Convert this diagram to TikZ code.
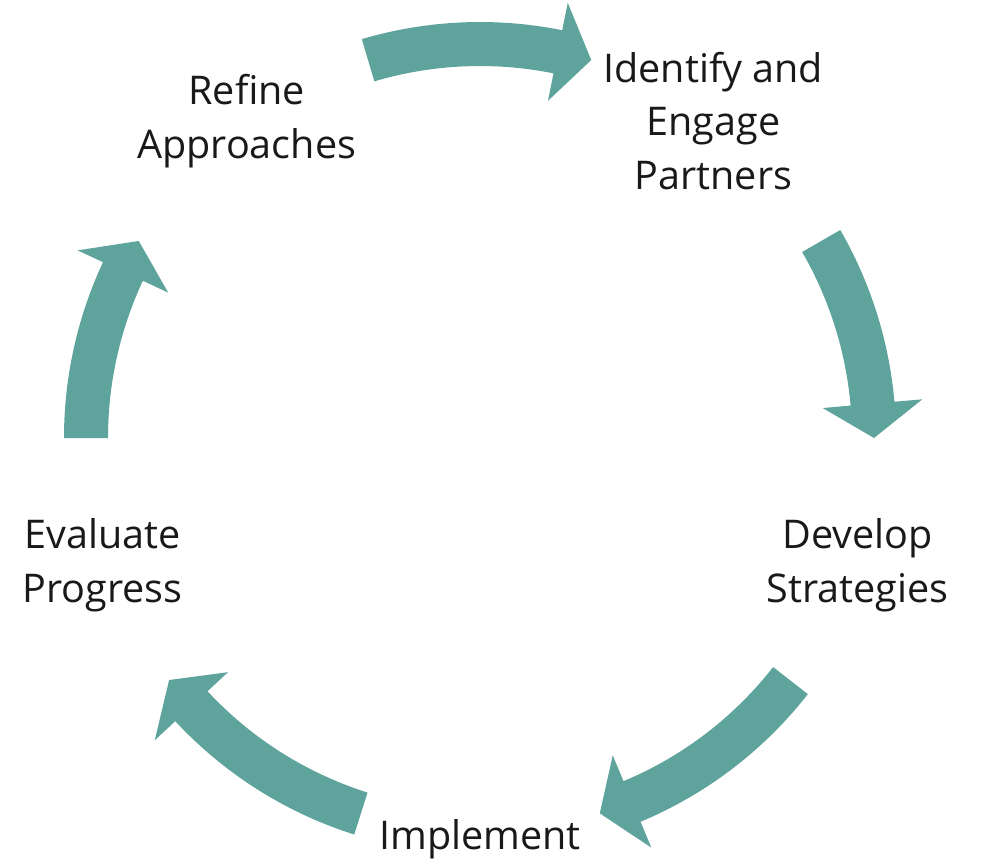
\documentclass[tikz,border=0pt]{standalone}
\usepackage{fontspec}
\setmainfont{Open Sans}
\usetikzlibrary{positioning}
\definecolor{cycleteal}{RGB}{94,164,156}
\tikzset{
	steplabel/.style={align=center,text=black!90,inner sep=0pt,yshift=-2.4pt,font=\fontsize{22.5}{30.7}\selectfont},
	blockarrow/.style={fill=cycleteal,draw=none}
}
\newcommand{\cyclearrow}[3]{%
	\fill[blockarrow] (#1:372) -- (#1:416) arc[start angle=#1,end angle=#2,radius=416]
		-- (#2:444) -- (#3:394) -- (#2:344) -- (#2:372)
		arc[start angle=#2,end angle=#1,radius=372] -- cycle;}

\begin{document}
\begin{tikzpicture}[x=0.02cm,y=0.02cm]
		\useasboundingbox (-480,-425) rectangle (502,438);

		\draw (54:397) node [steplabel] (identify){Identify and\\Engage\\Partners};
		\draw (-18:397) node [steplabel] (develop){Develop\\Strategies};
		\draw (-90:397) node [steplabel] (implement){Implement};
		\draw (198:397) node [steplabel] (evaluate){Evaluate\\Progress};
		\draw (126:397) node [steplabel] (refine){Refine\\Approaches};

		\cyclearrow{106.5}{78.6}{73.6}
		\cyclearrow{30}{5}{0}
		\cyclearrow{-38}{-67.3}{-72.3}
		\cyclearrow{-107.6}{-137.1}{-142.1}
		\cyclearrow{180}{155}{150}
	\end{tikzpicture}
\end{document}
